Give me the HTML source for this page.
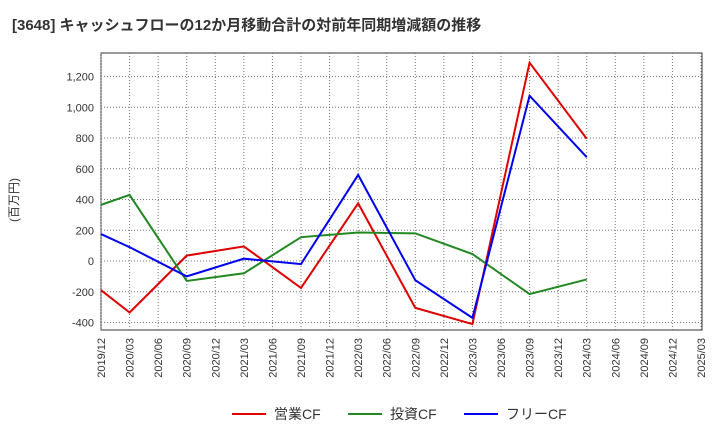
<!DOCTYPE html>
<html><head><meta charset="utf-8"><style>
body{margin:0;background:#fff;font-family:"Liberation Sans","Noto Sans CJK JP",sans-serif}
</style></head><body>
<svg id="c" width="720" height="440" xmlns="http://www.w3.org/2000/svg">
<text x="12" y="30" font-size="15" font-weight="bold" fill="#333" font-family="Liberation Sans,Noto Sans CJK JP,sans-serif">[3648]  キャッシュフローの12か月移動合計の対前年同期増減額の推移</text>
<text transform="translate(18,200) rotate(-90)" font-size="12" fill="#333" text-anchor="middle" font-family="Liberation Sans,Noto Sans CJK JP,sans-serif">(百万円)</text>
<g id="grid"></g><g id="axes"></g><g id="series"></g><g id="legend"></g>
</svg>
<script>
const xLabels=["2019/12","2020/03","2020/06","2020/09","2020/12","2021/03","2021/06","2021/09","2021/12","2022/03","2022/06","2022/09","2022/12","2023/03","2023/06","2023/09","2023/12","2024/03","2024/06","2024/09","2024/12","2025/03"];
const yTicks=[-400,-200,0,200,400,600,800,1000,1200];
const pointIdx=[0,1,3,5,7,9,11,13,15,17];
const opCF=[-190,-335,35,95,-175,375,-305,-410,1290,795];
const invCF=[365,430,-130,-80,155,185,180,45,-215,-120];
const freeCF=[175,90,-100,15,-20,560,-125,-370,1075,675];
const seriesNames=["営業CF","投資CF","フリーCF"];
const NS="http://www.w3.org/2000/svg";
const L=101,R=702,T=53,B=330;
const xs=i=>L+i*(R-L-1)/(xLabels.length-1);
const ys=v=>261-v*30.75/200;
function mk(t,a,p){const e=document.createElementNS(NS,t);for(const k in a)e.setAttribute(k,a[k]);p.appendChild(e);return e;}
const g=document.getElementById('grid'),ax=document.getElementById('axes'),s=document.getElementById('series'),lg=document.getElementById('legend');
mk('rect',{x:L,y:T,width:R-L,height:B-T,fill:'#fff',stroke:'#333','stroke-width':1},g);
xLabels.forEach((l,i)=>{const x=xs(i);
const ln=mk('line',{x1:x,x2:x,y1:T,y2:B,stroke:'#777','stroke-dasharray':'1,2'},g);

const t=mk('text',{transform:`translate(${x+4},${B+8}) rotate(-90)`,'font-size':11,fill:'#333','text-anchor':'end'},ax);
t.textContent=l;});
yTicks.forEach(v=>{const y=ys(v);
const ln=mk('line',{x1:L,x2:R,y1:y,y2:y,stroke:'#777','stroke-dasharray':'1,2'},g);

const t=mk('text',{x:L-7,y:y+4,'font-size':11,fill:'#333','text-anchor':'end'},ax);
t.textContent=v.toLocaleString('en-US');});
const series=[[opCF,'#e00000'],[invCF,'#228822'],[freeCF,'#0000ee']];
series.forEach(([d,c],k)=>{
const p=mk('polyline',{points:d.map((v,i)=>xs(pointIdx[i])+','+ys(v)).join(' '),fill:'none',stroke:c,'stroke-width':2},s);

const lx=[232,348,464][k];
const ll=mk('line',{x1:lx,x2:lx+34,y1:414,y2:414,stroke:c,'stroke-width':2},lg);

const t=mk('text',{x:lx+42,y:419,'font-size':14,fill:'#333'},lg);
t.textContent=seriesNames[k];});
</script>
</body></html>
